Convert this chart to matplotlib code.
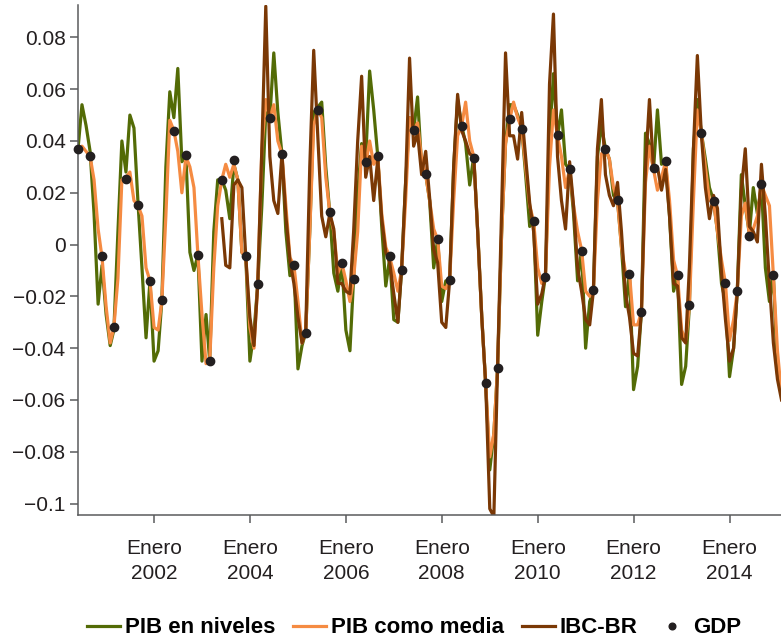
"""PIB mensual: niveles, media, IBC-BR y PIB trimestral"""
import pandas as pd
import matplotlib
matplotlib.use('Agg')
import matplotlib.pyplot as plt
from matplotlib import font_manager

# monthly series, June 2000 onward
pib_niveles = [
    0.037, 0.054, 0.046, 0.036, 0.012, -0.023, -0.008, -0.027, -0.039, -0.033, 0.005, 0.040,
    0.028, 0.050, 0.045, 0.016, -0.009, -0.036, -0.014, -0.045, -0.041, -0.022, 0.030, 0.059,
    0.049, 0.068, 0.032, 0.034, -0.003, -0.010, -0.004, -0.045, -0.027, -0.045, 0.005, 0.025,
    0.025, 0.021, 0.010, 0.031, 0.025, -0.003, -0.005, -0.045, -0.034, -0.015, 0.015, 0.051,
    0.049, 0.074, 0.051, 0.035, 0.005, -0.012, -0.008, -0.048, -0.039, -0.034, 0.005, 0.051,
    0.053, 0.055, 0.030, 0.012, -0.011, -0.018, -0.007, -0.033, -0.041, -0.013, 0.020, 0.039,
    0.033, 0.067, 0.052, 0.034, 0.007, -0.016, -0.005, -0.029, -0.030, -0.010, 0.024, 0.049,
    0.044, 0.057, 0.030, 0.027, 0.017, -0.009, 0.002, -0.022, -0.014, -0.014, 0.030, 0.056,
    0.046, 0.039, 0.023, 0.034, 0.005, -0.028, -0.054, -0.087, -0.073, -0.048, 0.004, 0.039,
    0.054, 0.054, 0.050, 0.045, 0.027, 0.007, 0.009, -0.035, -0.022, -0.012, 0.040, 0.066,
    0.042, 0.052, 0.031, 0.029, 0.012, -0.014, -0.002, -0.040, -0.022, -0.018, 0.034, 0.046,
    0.037, 0.033, 0.019, 0.017, -0.001, -0.024, -0.011, -0.056, -0.047, -0.026, 0.043, 0.039,
    0.029, 0.052, 0.031, 0.032, 0.011, -0.018, -0.012, -0.054, -0.047, -0.024, 0.037, 0.056,
    0.043, 0.033, 0.022, 0.017, 0.005, -0.015, -0.022, -0.051, -0.040, -0.018, 0.027, 0.015,
    0.004, 0.022, 0.012, 0.023, -0.009, -0.022, -0.012, -0.050, -0.052,
]
pib_media = [
    0.037, 0.038, 0.036, 0.034, 0.025, 0.006, -0.005, -0.024, -0.038, -0.032, -0.013, 0.025,
    0.026, 0.028, 0.017, 0.015, 0.011, -0.009, -0.014, -0.032, -0.033, -0.022, 0.011, 0.048,
    0.044, 0.036, 0.020, 0.034, 0.030, 0.022, -0.004, -0.027, -0.046, -0.045, -0.009, 0.015,
    0.025, 0.031, 0.026, 0.031, 0.025, -0.003, -0.005, -0.032, -0.040, -0.015, 0.037, 0.056,
    0.049, 0.054, 0.040, 0.035, 0.015, -0.005, -0.008, -0.022, -0.038, -0.034, 0.005, 0.046,
    0.052, 0.049, 0.026, 0.012, 0.005, -0.011, -0.007, -0.014, -0.022, -0.013, 0.005, 0.038,
    0.031, 0.040, 0.031, 0.034, 0.012, -0.001, -0.005, -0.011, -0.018, -0.010, 0.017, 0.049,
    0.044, 0.047, 0.033, 0.027, 0.017, 0.006, 0.002, -0.016, -0.017, -0.014, 0.017, 0.042,
    0.046, 0.055, 0.040, 0.034, 0.005, -0.028, -0.054, -0.082, -0.073, -0.048, 0.004, 0.039,
    0.048, 0.055, 0.049, 0.045, 0.030, 0.015, 0.009, -0.009, -0.015, -0.012, 0.030, 0.052,
    0.042, 0.034, 0.022, 0.029, 0.015, 0.005, -0.002, -0.018, -0.020, -0.018, 0.017, 0.035,
    0.037, 0.033, 0.022, 0.017, -0.001, -0.011, -0.011, -0.031, -0.031, -0.026, 0.024, 0.038,
    0.029, 0.021, 0.026, 0.032, 0.017, -0.006, -0.012, -0.033, -0.037, -0.024, 0.017, 0.052,
    0.043, 0.030, 0.017, 0.017, 0.005, -0.006, -0.015, -0.037, -0.029, -0.018, 0.011, 0.016,
    0.004, 0.006, 0.011, 0.023, 0.019, 0.015, -0.012, -0.041, -0.058,
]
# IBC-BR starts in June 2003
ibc_br = [
    0.010, -0.008, -0.009, 0.023, 0.025, 0.022, -0.005, -0.028, -0.039, -0.015, 0.037, 0.092,
    0.034, 0.017, 0.012, 0.035, 0.011, -0.006, -0.015, -0.028, -0.038, -0.034, 0.030, 0.075,
    0.042, 0.011, 0.003, 0.012, 0.006, -0.015, -0.015, -0.018, -0.019, 0.005, 0.040, 0.065,
    0.026, 0.034, 0.017, 0.033, 0.010, -0.003, -0.007, -0.019, -0.030, -0.010, 0.024, 0.072,
    0.038, 0.043, 0.027, 0.036, 0.018, -0.002, -0.007, -0.030, -0.032, -0.014, 0.030, 0.058,
    0.044, 0.040, 0.035, 0.034, 0.005, -0.028, -0.054, -0.102, -0.105, -0.048, 0.013, 0.074,
    0.042, 0.042, 0.033, 0.051, 0.034, 0.016, 0.005, -0.023, -0.019, -0.012, 0.062, 0.089,
    0.034, 0.017, 0.006, 0.032, 0.015, -0.009, -0.018, -0.029, -0.031, -0.018, 0.037, 0.056,
    0.027, 0.019, 0.015, 0.024, 0.005, -0.019, -0.028, -0.042, -0.043, -0.026, 0.030, 0.056,
    0.029, 0.030, 0.021, 0.029, 0.011, -0.015, -0.016, -0.036, -0.038, -0.009, 0.037, 0.073,
    0.042, 0.022, 0.010, 0.019, 0.014, -0.011, -0.029, -0.045, -0.040, -0.018, 0.021, 0.037,
    0.007, 0.005, 0.001, 0.031, 0.011, -0.015, -0.038, -0.052, -0.060,
]
# quarterly GDP, June 2000 onward
gdp = [
    0.0368, 0.0341, -0.0046, -0.0317, 0.0252, 0.0152, -0.0140, -0.0215, 0.0439, 0.0344, -0.0040, -0.0449,
    0.0251, 0.0327, -0.0046, -0.0152, 0.0488, 0.0351, -0.0078, -0.0340, 0.0519, 0.0124, -0.0072, -0.0134,
    0.0318, 0.0342, -0.0046, -0.0099, 0.0444, 0.0274, 0.0023, -0.0137, 0.0459, 0.0336, -0.0535, -0.0477,
    0.0483, 0.0448, 0.0090, -0.0124, 0.0424, 0.0292, -0.0023, -0.0176, 0.0369, 0.0174, -0.0114,
    -0.0261, 0.0294, 0.0322, -0.0117, -0.0235, 0.0432, 0.0169, -0.0147, -0.0178, 0.0035, 0.0233, -0.0116,
]
tick_years = [2002, 2004, 2006, 2008, 2010, 2012, 2014]
y_ticks = [0.08, 0.06, 0.04, 0.02, 0, -0.02, -0.04, -0.06, -0.08, -0.1]
y_labels = ['0.08', '0.06', '0.04', '0.02', '0', '\u22120.02', '\u22120.04', '\u22120.06', '\u22120.08', '\u22120.1']

months = pd.date_range('2000-06-01', periods=len(pib_niveles), freq='MS')
months_ibc = pd.date_range('2003-06-01', periods=len(ibc_br), freq='MS')
quarters = pd.date_range('2000-06-01', periods=len(gdp), freq='3MS')

names = {f.name for f in font_manager.fontManager.ttflist}
narrow = 'Liberation Sans Narrow' in names
plt.rcParams['font.family'] = 'Liberation Sans Narrow' if narrow else 'Liberation Sans'
fs = 18 if narrow else 15

GREEN, ORANGE, BROWN, DOT, AXC = '#536b06', '#f58b42', '#7a3805', '#231f20', '#5a5b5d'

fig = plt.figure(figsize=(7.81, 6.41), dpi=100)
ax = fig.add_axes([0.0999, 0.1966, 0.9001, 0.7956])
ax.plot(months, pib_niveles, color=GREEN, lw=2.3, label='PIB en niveles')
ax.plot(months, pib_media, color=ORANGE, lw=2.3, label='PIB como media')
ax.plot(months_ibc, ibc_br, color=BROWN, lw=2.3, label='IBC-BR')
ax.plot(quarters, gdp, 'o', color=DOT, ms=6, ls='none', label='GDP', zorder=5, clip_on=False)

ax.set_xlim(pd.Timestamp('2000-06-01'), pd.Timestamp('2015-01-28'))
ax.set_ylim(-0.1044, 0.0925)
ax.set_xticks([pd.Timestamp(f'{y}-01-01') for y in tick_years])
ax.set_xticklabels([f'Enero\n{y}' for y in tick_years], linespacing=1.4)
ax.set_yticks(y_ticks)
ax.set_yticklabels(y_labels)
for s in ('top', 'right'):
    ax.spines[s].set_visible(False)
for s in ('left', 'bottom'):
    ax.spines[s].set_color(AXC); ax.spines[s].set_linewidth(1.1)
ax.tick_params(axis='both', colors=AXC, labelcolor=DOT, labelsize=fs, width=1.1, length=6)
ax.tick_params(axis='x', pad=11)
ax.tick_params(axis='y', pad=3)

fig.legend(loc='center', bbox_to_anchor=(0.53, 0.0203), ncol=4, frameon=False,
           prop={'weight': 'bold', 'size': fs + 1}, handlelength=1.5, handletextpad=0.2,
           columnspacing=0.8, markerscale=0.8)
plt.savefig('out.png', dpi=100)
